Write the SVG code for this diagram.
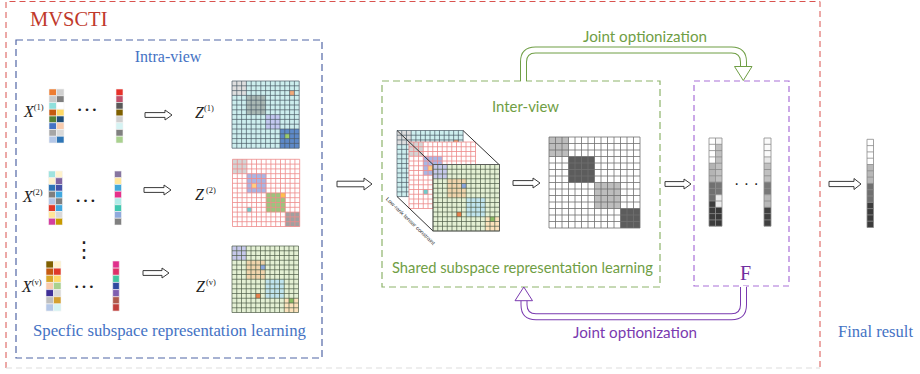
<svg xmlns="http://www.w3.org/2000/svg" xmlns:xlink="http://www.w3.org/1999/xlink" width="920" height="374" viewBox="0 0 920 374">
<style>
.sans{font-family:Lato,"Open Sans","Liberation Sans",sans-serif}
.ha{fill:#fff;stroke:#3a3a3a;stroke-width:1}
.cell{stroke:#f4f4f4;stroke-width:0.6}
.var{font-family:"Liberation Serif",serif;font-style:italic;font-size:16px;fill:#222}
.sup{font-family:"Liberation Serif",serif;font-style:normal;font-size:8.5px}
.dots{font-family:"Liberation Serif",serif;font-size:22px;fill:#222}
</style>
<defs>
<path id="g14" fill="none" vector-effect="non-scaling-stroke" d="M0,0V14M1,0V14M2,0V14M3,0V14M4,0V14M5,0V14M6,0V14M7,0V14M8,0V14M9,0V14M10,0V14M11,0V14M12,0V14M13,0V14M14,0V14M0,0H14M0,1H14M0,2H14M0,3H14M0,4H14M0,5H14M0,6H14M0,7H14M0,8H14M0,9H14M0,10H14M0,11H14M0,12H14M0,13H14M0,14H14"/>
<path id="g2x14" fill="none" vector-effect="non-scaling-stroke" d="M0,0V14M1,0V14M2,0V14M0,0H2M0,1H2M0,2H2M0,3H2M0,4H2M0,5H2M0,6H2M0,7H2M0,8H2M0,9H2M0,10H2M0,11H2M0,12H2M0,13H2M0,14H2"/>
<path id="g1x14" fill="none" vector-effect="non-scaling-stroke" d="M0,0V14M1,0V14M0,0H1M0,1H1M0,2H1M0,3H1M0,4H1M0,5H1M0,6H1M0,7H1M0,8H1M0,9H1M0,10H1M0,11H1M0,12H1M0,13H1M0,14H1"/>
<g id="m1">
<rect width="14" height="14" fill="#cdeeee"/>
<rect width="3" height="3" fill="#dedede"/>
<rect x="3" y="3" width="4" height="4" fill="#a9b8b4"/>
<rect x="7" y="7" width="3" height="3" fill="#c3c8f0"/>
<rect x="10" y="10" width="4" height="4" fill="#5d89c8"/>
<rect x="12" y="2" width="1" height="1" fill="#f4a878"/>
<rect x="11" y="11" width="1" height="1" fill="#9ccc6c"/>
<use xlink:href="#g14" stroke="#4a5a66" stroke-width="0.7"/>
</g>
<g id="m2">
<rect width="14" height="14" fill="#ffffff"/>
<rect width="3" height="3" fill="#d4d4d4"/>
<rect x="3" y="3" width="4" height="4" fill="#a8b6e4"/>
<rect x="7" y="7" width="4" height="4" fill="#9cc47e"/>
<rect x="11" y="11" width="3" height="3" fill="#a0a0a0"/>
<rect x="4" y="5" width="1" height="1" fill="#ffd080"/>
<rect x="10" y="7" width="1" height="1" fill="#ffc04c"/>
<rect x="3" y="10" width="1" height="1" fill="#70cccc"/>
<use xlink:href="#g14" stroke="#ee8a8a" stroke-width="0.8"/>
</g>
<g id="m3">
<rect width="14" height="14" fill="#e4f0d4"/>
<rect width="3" height="3" fill="#c6c8ea"/>
<rect x="3" y="3" width="4" height="4" fill="#f0d4ac"/>
<rect x="7" y="7" width="4" height="4" fill="#c0e4ee"/>
<rect x="11" y="11" width="3" height="3" fill="#fce2bc"/>
<rect x="6" y="4" width="1" height="1" fill="#8ca6dc"/>
<rect x="5" y="10" width="1" height="1" fill="#e8804c"/>
<rect x="12" y="11" width="1" height="1" fill="#8cbc64"/>
<use xlink:href="#g14" stroke="#4d5c48" stroke-width="0.7"/>
</g>
</defs>

<!-- frames -->
<g id="frame-mvscti">
<path d="M6,368V1.5H820V368" fill="none" stroke="#d9534f" stroke-width="1" stroke-dasharray="6 4"/>
<path d="M6,368H820" fill="none" stroke="#dddddd" stroke-width="1" stroke-dasharray="6 4"/>
<text x="30" y="26" font-family="Liberation Serif, Times New Roman, serif" font-size="20.5" fill="#c0392b">MVSCTI</text>
</g>

<g id="intra-view">
<rect x="16" y="40" width="306" height="318" fill="none" stroke="#5166a6" stroke-width="1.2" stroke-dasharray="7 4"/>
<text x="168" y="62" font-family="Liberation Serif, Times New Roman, serif" font-size="16" fill="#4472c4" text-anchor="middle">Intra-view</text>
<text x="33" y="336" font-family="Liberation Serif, Times New Roman, serif" font-size="16.5" fill="#4472c4" textLength="273" lengthAdjust="spacingAndGlyphs">Specfic subspace representation learning</text>
</g>

<!-- X1 -->
<g id="X1">
<text x="24" y="117" class="var">X<tspan class="sup" dy="-7">(1)</tspan></text>
<g transform="translate(49,89) scale(7.5,6.75)">
<rect class="cell" vector-effect="non-scaling-stroke" x="0" y="0" width="1" height="1" fill="#ed7d31"/>
<rect class="cell" vector-effect="non-scaling-stroke" x="0" y="1" width="1" height="1" fill="#c9c9c9"/>
<rect class="cell" vector-effect="non-scaling-stroke" x="0" y="2" width="1" height="1" fill="#8fe0dc"/>
<rect class="cell" vector-effect="non-scaling-stroke" x="0" y="3" width="1" height="1" fill="#c55a11"/>
<rect class="cell" vector-effect="non-scaling-stroke" x="0" y="4" width="1" height="1" fill="#548235"/>
<rect class="cell" vector-effect="non-scaling-stroke" x="0" y="5" width="1" height="1" fill="#4472c4"/>
<rect class="cell" vector-effect="non-scaling-stroke" x="0" y="6" width="1" height="1" fill="#a6a6a6"/>
<rect class="cell" vector-effect="non-scaling-stroke" x="0" y="7" width="1" height="1" fill="#b4c7e7"/>
<rect class="cell" vector-effect="non-scaling-stroke" x="1" y="0" width="1" height="1" fill="#d0d0d0"/>
<rect class="cell" vector-effect="non-scaling-stroke" x="1" y="1" width="1" height="1" fill="#7f7f7f"/>
<rect class="cell" vector-effect="non-scaling-stroke" x="1" y="2" width="1" height="1" fill="#ffffff"/>
<rect class="cell" vector-effect="non-scaling-stroke" x="1" y="3" width="1" height="1" fill="#ffd966"/>
<rect class="cell" vector-effect="non-scaling-stroke" x="1" y="4" width="1" height="1" fill="#1f4e79"/>
<rect class="cell" vector-effect="non-scaling-stroke" x="1" y="5" width="1" height="1" fill="#f8cbad"/>
<rect class="cell" vector-effect="non-scaling-stroke" x="1" y="6" width="1" height="1" fill="#d9d9d9"/>
<rect class="cell" vector-effect="non-scaling-stroke" x="1" y="7" width="1" height="1" fill="#2e75b6"/>
</g>
<text x="76" y="111" class="dots">…</text>
<g transform="translate(116,89) scale(7,6.75)">
<rect class="cell" vector-effect="non-scaling-stroke" x="0" y="0" width="1" height="1" fill="#e7312a"/>
<rect class="cell" vector-effect="non-scaling-stroke" x="0" y="1" width="1" height="1" fill="#c0506a"/>
<rect class="cell" vector-effect="non-scaling-stroke" x="0" y="2" width="1" height="1" fill="#595959"/>
<rect class="cell" vector-effect="non-scaling-stroke" x="0" y="3" width="1" height="1" fill="#7f6000"/>
<rect class="cell" vector-effect="non-scaling-stroke" x="0" y="4" width="1" height="1" fill="#d0d0d0"/>
<rect class="cell" vector-effect="non-scaling-stroke" x="0" y="5" width="1" height="1" fill="#d5f3f3"/>
<rect class="cell" vector-effect="non-scaling-stroke" x="0" y="6" width="1" height="1" fill="#808080"/>
<rect class="cell" vector-effect="non-scaling-stroke" x="0" y="7" width="1" height="1" fill="#a9d18e"/>
</g>
</g>

<!-- X2 -->
<g id="X2">
<text x="23" y="202" class="var">X<tspan class="sup" dy="-7">(2)</tspan></text>
<g transform="translate(48.5,171) scale(7,6.75)">
<rect class="cell" vector-effect="non-scaling-stroke" x="0" y="0" width="1" height="1" fill="#9fe3df"/>
<rect class="cell" vector-effect="non-scaling-stroke" x="0" y="1" width="1" height="1" fill="#fff2cc"/>
<rect class="cell" vector-effect="non-scaling-stroke" x="0" y="2" width="1" height="1" fill="#2e75b6"/>
<rect class="cell" vector-effect="non-scaling-stroke" x="0" y="3" width="1" height="1" fill="#7f7f7f"/>
<rect class="cell" vector-effect="non-scaling-stroke" x="0" y="4" width="1" height="1" fill="#b4c7e7"/>
<rect class="cell" vector-effect="non-scaling-stroke" x="0" y="5" width="1" height="1" fill="#e03a2a"/>
<rect class="cell" vector-effect="non-scaling-stroke" x="0" y="6" width="1" height="1" fill="#ffe699"/>
<rect class="cell" vector-effect="non-scaling-stroke" x="0" y="7" width="1" height="1" fill="#d43fa0"/>
<rect class="cell" vector-effect="non-scaling-stroke" x="1" y="0" width="1" height="1" fill="#fff2cc"/>
<rect class="cell" vector-effect="non-scaling-stroke" x="1" y="1" width="1" height="1" fill="#8064a2"/>
<rect class="cell" vector-effect="non-scaling-stroke" x="1" y="2" width="1" height="1" fill="#4453a8"/>
<rect class="cell" vector-effect="non-scaling-stroke" x="1" y="3" width="1" height="1" fill="#41a8df"/>
<rect class="cell" vector-effect="non-scaling-stroke" x="1" y="4" width="1" height="1" fill="#808080"/>
<rect class="cell" vector-effect="non-scaling-stroke" x="1" y="5" width="1" height="1" fill="#41a8df"/>
<rect class="cell" vector-effect="non-scaling-stroke" x="1" y="6" width="1" height="1" fill="#d9d9d9"/>
<rect class="cell" vector-effect="non-scaling-stroke" x="1" y="7" width="1" height="1" fill="#c89a00"/>
</g>
<text x="74.5" y="202" class="dots">…</text>
<g transform="translate(114.5,171) scale(7,6.75)">
<rect class="cell" vector-effect="non-scaling-stroke" x="0" y="0" width="1" height="1" fill="#8675a0"/>
<rect class="cell" vector-effect="non-scaling-stroke" x="0" y="1" width="1" height="1" fill="#ffe699"/>
<rect class="cell" vector-effect="non-scaling-stroke" x="0" y="2" width="1" height="1" fill="#41a8d8"/>
<rect class="cell" vector-effect="non-scaling-stroke" x="0" y="3" width="1" height="1" fill="#e6318a"/>
<rect class="cell" vector-effect="non-scaling-stroke" x="0" y="4" width="1" height="1" fill="#b0ece8"/>
<rect class="cell" vector-effect="non-scaling-stroke" x="0" y="5" width="1" height="1" fill="#40c8b0"/>
<rect class="cell" vector-effect="non-scaling-stroke" x="0" y="6" width="1" height="1" fill="#8faadc"/>
<rect class="cell" vector-effect="non-scaling-stroke" x="0" y="7" width="1" height="1" fill="#808080"/>
</g>
</g>

<text x="73" y="257" font-family="DejaVu Sans,sans-serif" font-size="22" fill="#222">⋮</text>

<!-- Xv -->
<g id="Xv">
<text x="22" y="292" class="var">X<tspan class="sup" dy="-7">(v)</tspan></text>
<g transform="translate(46,261) scale(7.5,7.15)">
<rect class="cell" vector-effect="non-scaling-stroke" x="0" y="0" width="1" height="1" fill="#7f6000"/>
<rect class="cell" vector-effect="non-scaling-stroke" x="0" y="1" width="1" height="1" fill="#c55a11"/>
<rect class="cell" vector-effect="non-scaling-stroke" x="0" y="2" width="1" height="1" fill="#d9a82a"/>
<rect class="cell" vector-effect="non-scaling-stroke" x="0" y="3" width="1" height="1" fill="#f8cbad"/>
<rect class="cell" vector-effect="non-scaling-stroke" x="0" y="4" width="1" height="1" fill="#403098"/>
<rect class="cell" vector-effect="non-scaling-stroke" x="0" y="5" width="1" height="1" fill="#bfbfbf"/>
<rect class="cell" vector-effect="non-scaling-stroke" x="0" y="6" width="1" height="1" fill="#b4c7e7"/>
<rect class="cell" vector-effect="non-scaling-stroke" x="1" y="0" width="1" height="1" fill="#fff2cc"/>
<rect class="cell" vector-effect="non-scaling-stroke" x="1" y="1" width="1" height="1" fill="#e03a2a"/>
<rect class="cell" vector-effect="non-scaling-stroke" x="1" y="2" width="1" height="1" fill="#ffd966"/>
<rect class="cell" vector-effect="non-scaling-stroke" x="1" y="3" width="1" height="1" fill="#a9d18e"/>
<rect class="cell" vector-effect="non-scaling-stroke" x="1" y="4" width="1" height="1" fill="#d9d9d9"/>
<rect class="cell" vector-effect="non-scaling-stroke" x="1" y="5" width="1" height="1" fill="#d4a030"/>
<rect class="cell" vector-effect="non-scaling-stroke" x="1" y="6" width="1" height="1" fill="#d5f3f3"/>
</g>
<text x="73" y="288" class="dots">…</text>
<g transform="translate(112.7,261) scale(6.6,7.15)">
<rect class="cell" vector-effect="non-scaling-stroke" x="0" y="0" width="1" height="1" fill="#e0308c"/>
<rect class="cell" vector-effect="non-scaling-stroke" x="0" y="1" width="1" height="1" fill="#df3068"/>
<rect class="cell" vector-effect="non-scaling-stroke" x="0" y="2" width="1" height="1" fill="#43c6a0"/>
<rect class="cell" vector-effect="non-scaling-stroke" x="0" y="3" width="1" height="1" fill="#2f4aa0"/>
<rect class="cell" vector-effect="non-scaling-stroke" x="0" y="4" width="1" height="1" fill="#7f5fb0"/>
<rect class="cell" vector-effect="non-scaling-stroke" x="0" y="5" width="1" height="1" fill="#b05a4c"/>
<rect class="cell" vector-effect="non-scaling-stroke" x="0" y="6" width="1" height="1" fill="#c0403c"/>
</g>
</g>

<!-- Z matrices -->
<g id="Z1">
<text x="195" y="118" class="var">Z<tspan class="sup" dy="-7">(1)</tspan></text>
<use xlink:href="#m1" transform="translate(232,81) scale(4.8)"/>
</g>
<g id="Z2">
<text x="195" y="200" class="var">Z<tspan class="sup" dy="-7" dx="2">(2)</tspan></text>
<use xlink:href="#m2" transform="translate(232.5,159.3) scale(4.8)"/>
</g>
<g id="Zv">
<text x="196" y="292" class="var">Z<tspan class="sup" dy="-7" dx="1">(v)</tspan></text>
<use xlink:href="#m3" transform="translate(232,246) scale(4.75)"/>
</g>

<!-- inter-view -->
<g id="inter-view">
<rect x="382" y="81" width="278" height="206" fill="none" stroke="#8db36a" stroke-width="1.2" stroke-dasharray="7 4"/>
<text x="525.5" y="112" class="sans" font-size="15" fill="#6f9e45" text-anchor="middle" textLength="67" lengthAdjust="spacingAndGlyphs">Inter-view</text>
<text x="392" y="273" class="sans" font-size="15" fill="#6f9e45" textLength="261" lengthAdjust="spacingAndGlyphs">Shared subspace representation learning</text>
</g>

<g id="tensor">
<use xlink:href="#m1" transform="translate(397,130.5) scale(4.72)"/>
<use xlink:href="#m2" transform="translate(409,142) scale(4.75)"/>
<path d="M397,130.5L433,164.5M463,130.5L499,164.5M397,196.5L433,231" stroke="#333" stroke-width="1" fill="none"/>
<use xlink:href="#m3" transform="translate(433,164.5) scale(4.75)"/>
<rect x="433" y="164.5" width="66.5" height="66.5" fill="none" stroke="#555" stroke-width="0.8"/>
<text transform="translate(385.5,199.5) rotate(44)" font-family="Liberation Sans,sans-serif" font-size="5.5" fill="#333" textLength="66" lengthAdjust="spacingAndGlyphs">Low-rank tensor constraint</text>
</g>

<g id="S">
<g transform="translate(549,137) scale(6.5)">
<rect width="14" height="14" fill="#fff"/>
<rect width="3" height="3" fill="#bdbdbd"/>
<rect x="3" y="3" width="4" height="4" fill="#5c5c5c"/>
<rect x="7" y="7" width="4" height="4" fill="#bdbdbd"/>
<rect x="11" y="11" width="3" height="3" fill="#5c5c5c"/>
<use xlink:href="#g14" stroke="#707070" stroke-width="0.8"/>
</g>
</g>

<!-- F -->
<g id="F">
<rect x="694" y="81" width="95" height="205" fill="none" stroke="#a970d8" stroke-width="1.2" stroke-dasharray="6 4"/>
<g transform="translate(709,138) scale(6.5,6.3)">
<rect x="0" y="0" width="1" height="4" fill="#ffffff"/>
<rect x="0" y="4" width="1" height="3" fill="#b4b4b4"/>
<rect x="0" y="7" width="1" height="3" fill="#707070"/>
<rect x="0" y="10" width="1" height="4" fill="#3c3c3c"/>
<rect x="1" y="0" width="1" height="1" fill="#f4f4f4"/>
<rect x="1" y="1" width="1" height="6" fill="#c0c0c0"/>
<rect x="1" y="7" width="1" height="2" fill="#767676"/>
<rect x="1" y="9" width="1" height="2" fill="#ececec"/>
<rect x="1" y="11" width="1" height="3" fill="#383838"/>
<use xlink:href="#g2x14" stroke="#8a8a8a" stroke-width="0.8"/>
</g>
<text x="734" y="189" font-family="Liberation Sans,sans-serif" font-size="16" fill="#222">· · ·</text>
<g transform="translate(764,138) scale(7,6.3)">
<rect x="0" y="0" width="1" height="3" fill="#fafafa"/>
<rect x="0" y="3" width="1" height="1" fill="#e8e8e8"/>
<rect x="0" y="4" width="1" height="3" fill="#c0c0c0"/>
<rect x="0" y="7" width="1" height="2" fill="#787878"/>
<rect x="0" y="9" width="1" height="2" fill="#b8b8b8"/>
<rect x="0" y="11" width="1" height="3" fill="#404040"/>
<use xlink:href="#g1x14" stroke="#8a8a8a" stroke-width="0.8"/>
</g>
<text x="745.5" y="280" font-family="Liberation Serif, Times New Roman, serif" font-size="20" fill="#7030a0" text-anchor="middle">F</text>
</g>

<g id="final-result">
<g transform="translate(867,139.3) scale(6.5,6.3)">
<rect x="0" y="0" width="1" height="4" fill="#ffffff"/>
<rect x="0" y="4" width="1" height="3" fill="#b8b8b8"/>
<rect x="0" y="7" width="1" height="3" fill="#707070"/>
<rect x="0" y="10" width="1" height="4" fill="#3c3c3c"/>
<use xlink:href="#g1x14" stroke="#8a8a8a" stroke-width="0.8"/>
</g>
<text x="838" y="337" font-family="Liberation Serif, Times New Roman, serif" font-size="16.5" fill="#4472c4" textLength="75" lengthAdjust="spacingAndGlyphs">Final result</text>
</g>

<!-- connectors -->
<g id="connectors">
<path class="ha" transform="translate(145,115)" d="M0,-2.4H20V-5L27,0L20,5V2.4H0Z"/>
<path class="ha" transform="translate(144,190)" d="M0,-2.4H20V-5L27,0L20,5V2.4H0Z"/>
<path class="ha" transform="translate(143,273)" d="M0,-2.4H19V-5L26,0L19,5V2.4H0Z"/>
<path class="ha" transform="translate(337,184)" d="M0,-2.8H27V-6L35,0L27,6V2.8H0Z"/>
<path class="ha" transform="translate(513,183)" d="M0,-2.4H20V-5L27,0L20,5V2.4H0Z"/>
<path class="ha" transform="translate(665,184)" d="M0,-2.4H19V-5L26,0L19,5V2.4H0Z"/>
<path class="ha" transform="translate(829,184)" d="M0,-2.6H25V-5.5L32,0L25,5.5V2.6H0Z"/>

<path d="M523.5,81V62Q523.5,50 535.5,50H731.5Q743.5,50 743.5,62V67" fill="none" stroke="#6f9e45" stroke-width="7"/>
<path d="M523.5,82V62Q523.5,50 535.5,50H731.5Q743.5,50 743.5,62V68" fill="none" stroke="#fff" stroke-width="5"/>
<path d="M734.5,66.5H752L743.3,80.5Z" fill="#fff" stroke="#6f9e45" stroke-width="1"/>

<path d="M743.5,287V304.7Q743.5,316.7 731.5,316.7H536Q524,316.7 524,304.7V300.5" fill="none" stroke="#7a3ab0" stroke-width="7"/>
<path d="M743.5,286V304.7Q743.5,316.7 731.5,316.7H536Q524,316.7 524,304.7V299.5" fill="none" stroke="#fff" stroke-width="5"/>
<path d="M515,300.7H532.5L523.8,287Z" fill="#fff" stroke="#7a3ab0" stroke-width="1"/>
</g>

<text x="645" y="41.5" class="sans" font-size="15" fill="#6f9e45" text-anchor="middle" textLength="124" lengthAdjust="spacingAndGlyphs">Joint optionization</text>
<text x="635" y="338" class="sans" font-size="15" fill="#7a3ab0" text-anchor="middle" textLength="124" lengthAdjust="spacingAndGlyphs">Joint optionization</text>
</svg>
